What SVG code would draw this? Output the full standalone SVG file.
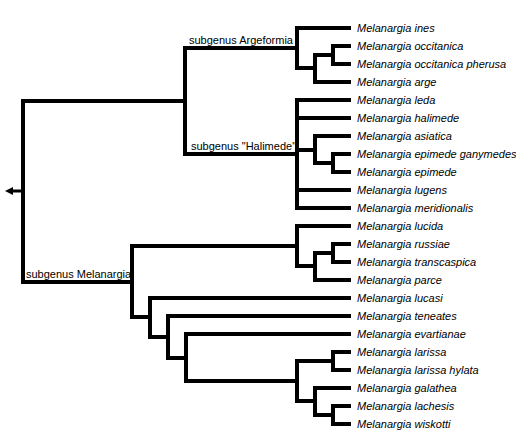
<svg xmlns="http://www.w3.org/2000/svg" width="516" height="435" viewBox="0 0 516 435">
<style>
.e{fill:none;stroke:#000;stroke-width:4;stroke-linecap:square}
.leaf{font-family:"Liberation Sans",Arial,sans-serif;font-size:11px;font-style:italic;fill:#000}
.lab{font-family:"Liberation Sans",Arial,sans-serif;font-size:11px;fill:#000}
</style>
<rect width="516" height="435" fill="#fff"/>
<g id="connectors">
<path class="e" d="M23,101V282M23,101H185M23,282H132"/>
<path class="e" d="M185,48V154M185,48H297M185,154H297"/>
<path class="e" d="M297,28V68M297,28H349M297,68H315"/>
<path class="e" d="M315,55V82M315,55H333M315,82H349"/>
<path class="e" d="M333,46V64M333,46H349M333,64H349"/>
<path class="e" d="M297,100V208M297,100H349M297,118H349M297,150H315M297,190H349M297,208H349"/>
<path class="e" d="M315,136V163M315,136H349M315,163H333"/>
<path class="e" d="M333,154V172M333,154H349M333,172H349"/>
<path class="e" d="M132,246V317M132,246H297M132,317H150"/>
<path class="e" d="M297,226V266M297,226H349M297,266H315"/>
<path class="e" d="M315,253V280M315,253H333M315,280H349"/>
<path class="e" d="M333,244V262M333,244H349M333,262H349"/>
<path class="e" d="M150,298V337M150,298H349M150,337H168"/>
<path class="e" d="M168,316V358M168,316H349M168,358H186"/>
<path class="e" d="M186,334V381M186,334H349M186,381H297"/>
<path class="e" d="M297,361V401M297,361H333M297,401H315"/>
<path class="e" d="M333,352V370M333,352H349M333,370H349"/>
<path class="e" d="M315,388V415M315,388H349M315,415H333"/>
<path class="e" d="M333,406V424M333,406H349M333,424H349"/>
<path d="M13,191H22" stroke="#000" stroke-width="3"/>
<polygon points="5,191 13,187 13,195" fill="#000"/>
</g>
<g id="clade-argeformia"><text class="lab" x="189" y="44">subgenus Argeformia</text></g>
<g id="clade-halimede"><text class="lab" x="191" y="150">subgenus "Halimede"</text></g>
<g id="clade-melanargia"><text class="lab" x="26" y="278">subgenus Melanargia</text></g>
<g id="leaf-ines"><text class="leaf" x="357" y="32">Melanargia ines</text></g>
<g id="leaf-occitanica"><text class="leaf" x="357" y="50">Melanargia occitanica</text></g>
<g id="leaf-occitanica-pherusa"><text class="leaf" x="357" y="68">Melanargia occitanica pherusa</text></g>
<g id="leaf-arge"><text class="leaf" x="357" y="86">Melanargia arge</text></g>
<g id="leaf-leda"><text class="leaf" x="357" y="104">Melanargia leda</text></g>
<g id="leaf-halimede"><text class="leaf" x="357" y="122">Melanargia halimede</text></g>
<g id="leaf-asiatica"><text class="leaf" x="357" y="140">Melanargia asiatica</text></g>
<g id="leaf-epimede-ganymedes"><text class="leaf" x="357" y="158">Melanargia epimede ganymedes</text></g>
<g id="leaf-epimede"><text class="leaf" x="357" y="176">Melanargia epimede</text></g>
<g id="leaf-lugens"><text class="leaf" x="357" y="194">Melanargia lugens</text></g>
<g id="leaf-meridionalis"><text class="leaf" x="357" y="212">Melanargia meridionalis</text></g>
<g id="leaf-lucida"><text class="leaf" x="357" y="230">Melanargia lucida</text></g>
<g id="leaf-russiae"><text class="leaf" x="357" y="248">Melanargia russiae</text></g>
<g id="leaf-transcaspica"><text class="leaf" x="357" y="266">Melanargia transcaspica</text></g>
<g id="leaf-parce"><text class="leaf" x="357" y="284">Melanargia parce</text></g>
<g id="leaf-lucasi"><text class="leaf" x="357" y="302">Melanargia lucasi</text></g>
<g id="leaf-teneates"><text class="leaf" x="357" y="320">Melanargia teneates</text></g>
<g id="leaf-evartianae"><text class="leaf" x="357" y="338">Melanargia evartianae</text></g>
<g id="leaf-larissa"><text class="leaf" x="357" y="356">Melanargia larissa</text></g>
<g id="leaf-larissa-hylata"><text class="leaf" x="357" y="374">Melanargia larissa hylata</text></g>
<g id="leaf-galathea"><text class="leaf" x="357" y="392">Melanargia galathea</text></g>
<g id="leaf-lachesis"><text class="leaf" x="357" y="410">Melanargia lachesis</text></g>
<g id="leaf-wiskotti"><text class="leaf" x="357" y="428">Melanargia wiskotti</text></g>
</svg>
